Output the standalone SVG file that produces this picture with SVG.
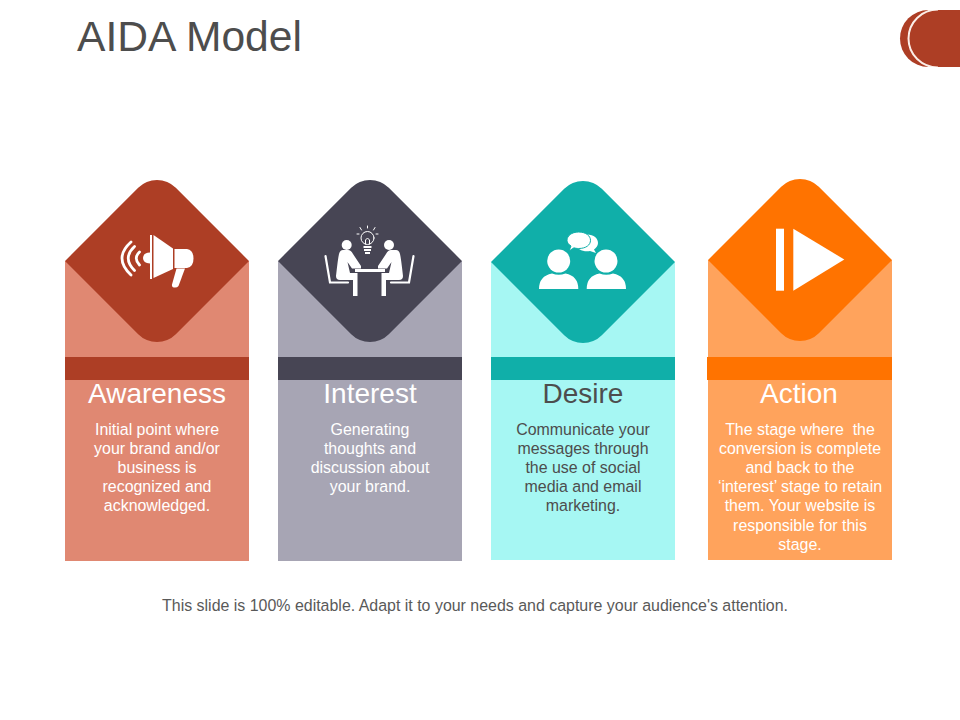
<svg xmlns="http://www.w3.org/2000/svg" width="960" height="720" viewBox="0 0 960 720">
<style>
text{font-family:"Liberation Sans",Arial,sans-serif;text-anchor:middle}
.h{font-size:28px}
.b{font-size:15.950px}
.w{fill:#fff}
.k{fill:#4d4d4d}
.i{fill:#fff}
.s{fill:none;stroke:#fff;stroke-linecap:round}
</style>
<defs>
<path id="dia" d="M-92 0L-18.8 -73.2A26.5 26.5 0 0 1 18.8 -73.2L92 0L18.8 73.2A26.5 26.5 0 0 1 -18.8 73.2Z"/>
<clipPath id="cornerClip"><path d="M960 10H928.500A28.500 28.500 0 0 0 928.500 67H960Z"/></clipPath>
</defs>
<rect width="960" height="720" fill="#fff"/>
<g id="title"><text x="77" y="51" style="text-anchor:start;font-size:42.600px" fill="#4d4d4d">AIDA Model</text></g>
<g id="corner">
<path d="M960 10H928.500A28.500 28.500 0 0 0 928.500 67H960Z" fill="#ad3e25"/>
<path d="M938 9.500A29.500 29 0 0 0 938 67.500" fill="none" stroke="#fbeee8" stroke-width="2" clip-path="url(#cornerClip)"/>
</g>

<g id="awareness">
<rect x="65" y="261" width="184" height="300" fill="#e08872"/>
<rect x="65" y="357" width="184" height="23" fill="#ad3e25"/>
<use href="#dia" x="157" y="261" fill="#ad3e25"/>
<path class="s" stroke-width="2.800" d="M131 242Q113 258 131 275M134.500 246.500Q122 258 134.500 270.500M139.500 252Q133 258 139.500 265"/>
<path class="i" d="M150 252.500Q143 253 143 258Q143 263 150 263.500Z"/>
<rect class="i" x="150" y="235" width="2" height="44"/>
<path class="i" d="M153.500 235L173 248.500V269L153.500 278Z"/>
<path class="i" d="M174.500 249H187Q193.500 250 193.500 258.500Q193.500 267 187 268H174.500Z"/>
<path class="i" d="M176.500 268.500H185L178.500 286Q177 288 174 287.500Q171.500 287 172 284.500Z"/>
<text class="h w" x="157" y="403">Awareness</text>
<text class="b w" x="157" y="435">Initial point where</text>
<text class="b w" x="157" y="454">your brand and/or</text>
<text class="b w" x="157" y="473">business is</text>
<text class="b w" x="157" y="492">recognized and</text>
<text class="b w" x="157" y="511">acknowledged.</text>
</g>

<g id="interest">
<rect x="278" y="261" width="184" height="300" fill="#a7a5b4"/>
<rect x="278" y="357" width="184" height="23" fill="#474554"/>
<use href="#dia" x="370" y="261" fill="#474554"/>
<circle class="s" cx="367.500" cy="238" r="6.500" stroke-width="1"/>
<path class="s" stroke-width="1" d="M365.500 244V240L367.500 238L369.500 240V244M360 227.500L361.500 230M367.500 226V228M375 227.500L373.500 230M357 234H359M376 234H378"/>
<path class="i" d="M363.500 246H371.500V248H363.500ZM364 249H371V251H364ZM365 252H370V254H365Z"/>
<circle class="i" cx="346.700" cy="245" r="5"/>
<circle class="i" cx="389" cy="245" r="5"/>
<rect class="i" x="355" y="269" width="30" height="3"/>
<g id="personL">
<path class="i" d="M343 250H348Q351 250 353 254L361 266V268.500H352L347.500 262L350 273H357.500V296H353V280H340Q336 280 336 276Q338 258 339 254Q340 250 343 250Z"/>
<path class="s" stroke-width="2.200" d="M325.500 256L330 282.500H348"/>
</g>
<g id="personR" transform="matrix(-1 0 0 1 739 0)">
<path class="i" d="M343 250H348Q351 250 353 254L361 266V268.500H352L347.500 262L350 273H357.500V296H353V280H340Q336 280 336 276Q338 258 339 254Q340 250 343 250Z"/>
<path class="s" stroke-width="2.200" d="M325.500 256L330 282.500H348"/>
</g>
<text class="h w" x="370" y="403">Interest</text>
<text class="b w" x="370" y="435">Generating</text>
<text class="b w" x="370" y="454">thoughts and</text>
<text class="b w" x="370" y="473">discussion about</text>
<text class="b w" x="370" y="492">your brand.</text>
</g>

<g id="desire">
<rect x="491" y="262" width="184" height="298" fill="#a6f7f3"/>
<rect x="491" y="357" width="184" height="23" fill="#10afa9"/>
<use href="#dia" x="583" y="262" fill="#10afa9"/>
<path class="i" d="M587 234.500C594 234.500 598 238.500 598 243C598 246 596 248 594 249.500L596 253L590 251C584 252 576 250 576 243C576 238.500 580 234.500 587 234.500Z"/>
<path d="M578.700 232C586 232 590.500 236 590.500 240.300C590.500 245 586 248.500 578.700 248.500C577 248.500 575 248.200 574 247.800L569 251L571 246C568.500 244.500 567 242.500 567 240.300C567 236 571.500 232 578.700 232Z" fill="#fff" stroke="#10afa9" stroke-width="1"/>
<circle class="i" cx="558.700" cy="261" r="11.500"/>
<circle class="i" cx="606" cy="261" r="11.500"/>
<path class="i" d="M539 289Q539 276 552 273.500Q558.700 276 565.500 273.500Q578.300 276 578.300 289Z"/>
<path class="i" d="M586.700 289Q586.700 276 599.500 273.500Q606.300 276 613 273.500Q626 276 626 289Z"/>
<text class="h k" x="583" y="403">Desire</text>
<text class="b k" x="583" y="435">Communicate your</text>
<text class="b k" x="583" y="454">messages through</text>
<text class="b k" x="583" y="473">the use of social</text>
<text class="b k" x="583" y="492">media and email</text>
<text class="b k" x="583" y="511">marketing.</text>
</g>

<g id="action">
<rect x="708" y="260" width="184" height="300" fill="#ffa35c"/>
<rect x="707" y="357" width="185" height="23" fill="#ff7300"/>
<use href="#dia" x="800" y="260" fill="#ff7300"/>
<rect class="i" x="776" y="228.700" width="8" height="62"/>
<path class="i" d="M793.300 228.700L844.300 259.500L793.300 290.700Z"/>
<text class="h w" x="799" y="403">Action</text>
<text class="b w" x="800" y="435">The stage where&#160; the</text>
<text class="b w" x="800" y="454">conversion is complete</text>
<text class="b w" x="800" y="473">and back to the</text>
<text class="b w" x="800" y="492">‘interest’ stage to retain</text>
<text class="b w" x="800" y="511">them. Your website is</text>
<text class="b w" x="800" y="531">responsible for this</text>
<text class="b w" x="800" y="550">stage.</text>
</g>

<g id="footer"><text class="b" x="475" y="611" fill="#595959">This slide is 100% editable. Adapt it to your needs and capture your audience's attention.</text></g>
</svg>
